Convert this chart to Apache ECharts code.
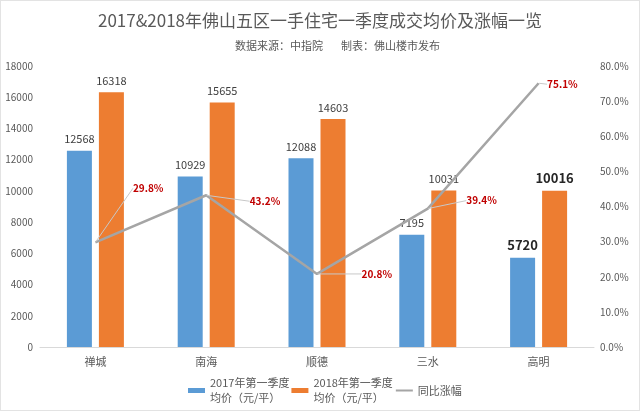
<!DOCTYPE html>
<html><head><meta charset="utf-8">
<script src="https://cdn.jsdelivr.net/npm/echarts@6/dist/echarts.min.js"></script>
<style>html,body{margin:0;padding:0;background:#fff}#c{width:640px;height:411px;box-sizing:border-box;border:1px solid #e3e3e3}</style>
</head><body><div id="c"></div>
<script>
const categories = ['禅城','南海','顺德','三水','高明'];
const price2017 = [12568, 10929, 12088, 7195, 5720];
const price2018 = [16318, 15655, 14603, 10031, 10016];
const growth = [29.8, 43.2, 20.8, 39.4, 75.1];
const seriesNames = ['2017年第一季度\n均价（元/平）', '2018年第一季度\n均价（元/平）', '同比涨幅'];

const font = '"Microsoft YaHei","Noto Sans CJK SC",sans-serif';
const chart = echarts.init(document.getElementById('c'));
const growthOffsets = [[32,-54],[38,6],[39,0],[33,-8],[3,1]];
const normalLabel = {show:true, position:'top', color:'#404040', fontSize:11, fontFamily:font, distance:6};
const boldLabel = {show:true, position:'top', color:'#262626', fontSize:13, fontWeight:'bold', fontFamily:font, distance:6};
function barData(arr){
  return arr.map((v,i)=> i===4 ? {value:v, label:boldLabel} : {value:v});
}
chart.setOption({
  animation:false,
  textStyle:{fontFamily:font},
  title:[{
    text:'2017&2018年佛山五区一手住宅一季度成交均价及涨幅一览',
    left:'center', top:6,
    textStyle:{fontSize:17, fontWeight:'normal', color:'#595959', fontFamily:font}
  },{
    text:'数据来源：中指院', left:234, top:39, padding:0,
    textStyle:{fontSize:11, fontWeight:'normal', color:'#595959', fontFamily:font}
  },{
    text:'制表：佛山楼市发布', left:340, top:39, padding:0,
    textStyle:{fontSize:11, fontWeight:'normal', color:'#595959', fontFamily:font}
  }],
  grid:{left:39, right:45, top:65, bottom:63},
  legend:{
    top:367, left:187, itemGap:2, padding:0,
    itemWidth:17, itemHeight:5,
    textStyle:{fontSize:11, color:'#595959', lineHeight:15, padding:[15,0,0,0], fontFamily:font},
    data:[{name:seriesNames[0], icon:'rect'},{name:seriesNames[1], icon:'rect'},{name:seriesNames[2]}]
  },
  xAxis:{
    type:'category', data:categories,
    axisLine:{lineStyle:{color:'#d9d9d9'}},
    axisTick:{show:false},
    axisLabel:{color:'#595959', fontSize:11, margin:9}
  },
  yAxis:[{
    type:'value', min:0, max:18000, interval:2000,
    splitLine:{show:false},
    axisLine:{show:false}, axisTick:{show:false},
    axisLabel:{color:'#595959', fontSize:10, margin:7, formatter:v=>String(v)}
  },{
    type:'value', min:0, max:80, interval:10,
    splitLine:{show:false},
    axisLine:{show:false}, axisTick:{show:false},
    axisLabel:{color:'#595959', fontSize:10, margin:6, formatter:v=>v.toFixed(1)+'%'}
  }],
  series:[{
    name:seriesNames[0], type:'bar', data:barData(price2017),
    itemStyle:{color:'#5B9BD5'}, barWidth:25, barGap:'28%', label:normalLabel
  },{
    name:seriesNames[1], type:'bar', data:barData(price2018),
    itemStyle:{color:'#ED7D31'}, barWidth:25, label:normalLabel
  },{
    name:seriesNames[2], type:'line', yAxisIndex:1, data:growth,
    symbol:'circle', symbolSize:1, showSymbol:true,
    lineStyle:{color:'#A5A5A5', width:2.5}, itemStyle:{color:'rgba(165,165,165,0)'},
    label:{show:true, position:'right', distance:5, color:'#C00000', fontWeight:'bold', fontSize:10,
      formatter:p=>p.value.toFixed(1)+'%'},
    labelLine:{show:true, lineStyle:{color:'#c8c8c8', width:1}},
    labelLayout:function(p){ const o=growthOffsets[p.dataIndex]; return {dx:o[0], dy:o[1]}; }
  }]
});
</script></body></html>
